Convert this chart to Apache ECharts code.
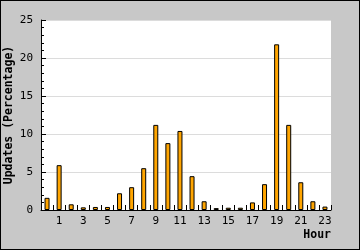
<!DOCTYPE html>
<html>
<head>
<meta charset="utf-8">
<script src="https://cdn.jsdelivr.net/npm/echarts@6/dist/echarts.min.js"></script>
<style>
    html, body { margin: 0; padding: 0; }
    #chart { width: 358px; height: 248px; border: 1px solid #000; }
</style>
</head>
<body>
<div id="chart"></div>
<script>
var hours = ['0','1','2','3','4','5','6','7','8','9','10','11','12','13','14','15','16','17','18','19','20','21','22','23'];
var updates = [1.6, 5.9, 0.75, 0.35, 0.4, 0.4, 2.2, 3.0, 5.5, 11.2, 8.8, 10.4, 4.45, 1.15, 0.25, 0.3, 0.3, 1.0, 3.4, 21.8, 11.2, 3.65, 1.15, 0.45];
var yTicks = [0, 5, 10, 15, 20, 25];

var font = 'DejaVu Sans Mono';
var myChart = echarts.init(document.getElementById('chart'));
var option = {
    backgroundColor: '#c8c8c8',
    animation: false,
    grid: {
        left: 40,
        right: 28,
        top: 19,
        bottom: 39,
        outerBoundsMode: 'none',
        containLabel: false,
        show: false
    },
    xAxis: {
        type: 'category',
        data: hours,
        name: 'Hour',
        nameLocation: 'end',
        nameGap: 0,
        nameTextStyle: {
            fontFamily: font, fontWeight: 'bold', fontSize: 11.5, color: '#000',
            align: 'right', verticalAlign: 'top', padding: [19, 0, 0, 0]
        },
        axisLine: { lineStyle: { color: '#000', width: 1 } },
        axisTick: { show: true, inside: true, length: 5, interval: 0, lineStyle: { color: '#000', width: 1 } },
        axisLabel: {
            interval: function (i) { return i % 2 === 1; },
            margin: 6,
            fontFamily: font, fontSize: 11, color: '#000'
        },
        splitLine: { show: false }
    },
    yAxis: {
        type: 'value',
        min: yTicks[0],
        max: yTicks[yTicks.length - 1],
        interval: 5,
        name: 'Updates (Percentage)',
        nameLocation: 'middle',
        nameGap: 26,
        nameMoveOverlap: false,
        nameTextStyle: { fontFamily: font, fontWeight: 'bold', fontSize: 11.5, color: '#000' },
        axisLine: { show: true, lineStyle: { color: '#000', width: 1 } },
        axisTick: { show: true, inside: true, length: 5, lineStyle: { color: '#000', width: 1 } },
        minorTick: { show: true, splitNumber: 5, length: 3, lineStyle: { color: '#000', width: 1 } },
        axisLabel: { margin: 8, fontFamily: font, fontSize: 11, color: '#000' },
        splitLine: { lineStyle: { color: '#dcdcdc', width: 1 } },
        splitArea: { show: true, areaStyle: { color: ['#fff'] } }
    },
    series: [
        {
            type: 'bar',
            data: updates,
            barWidth: 5,
            itemStyle: { color: '#ffa500', borderColor: '#000', borderWidth: 1 }
        }
    ]
};
myChart.setOption(option);
</script>
</body>
</html>
